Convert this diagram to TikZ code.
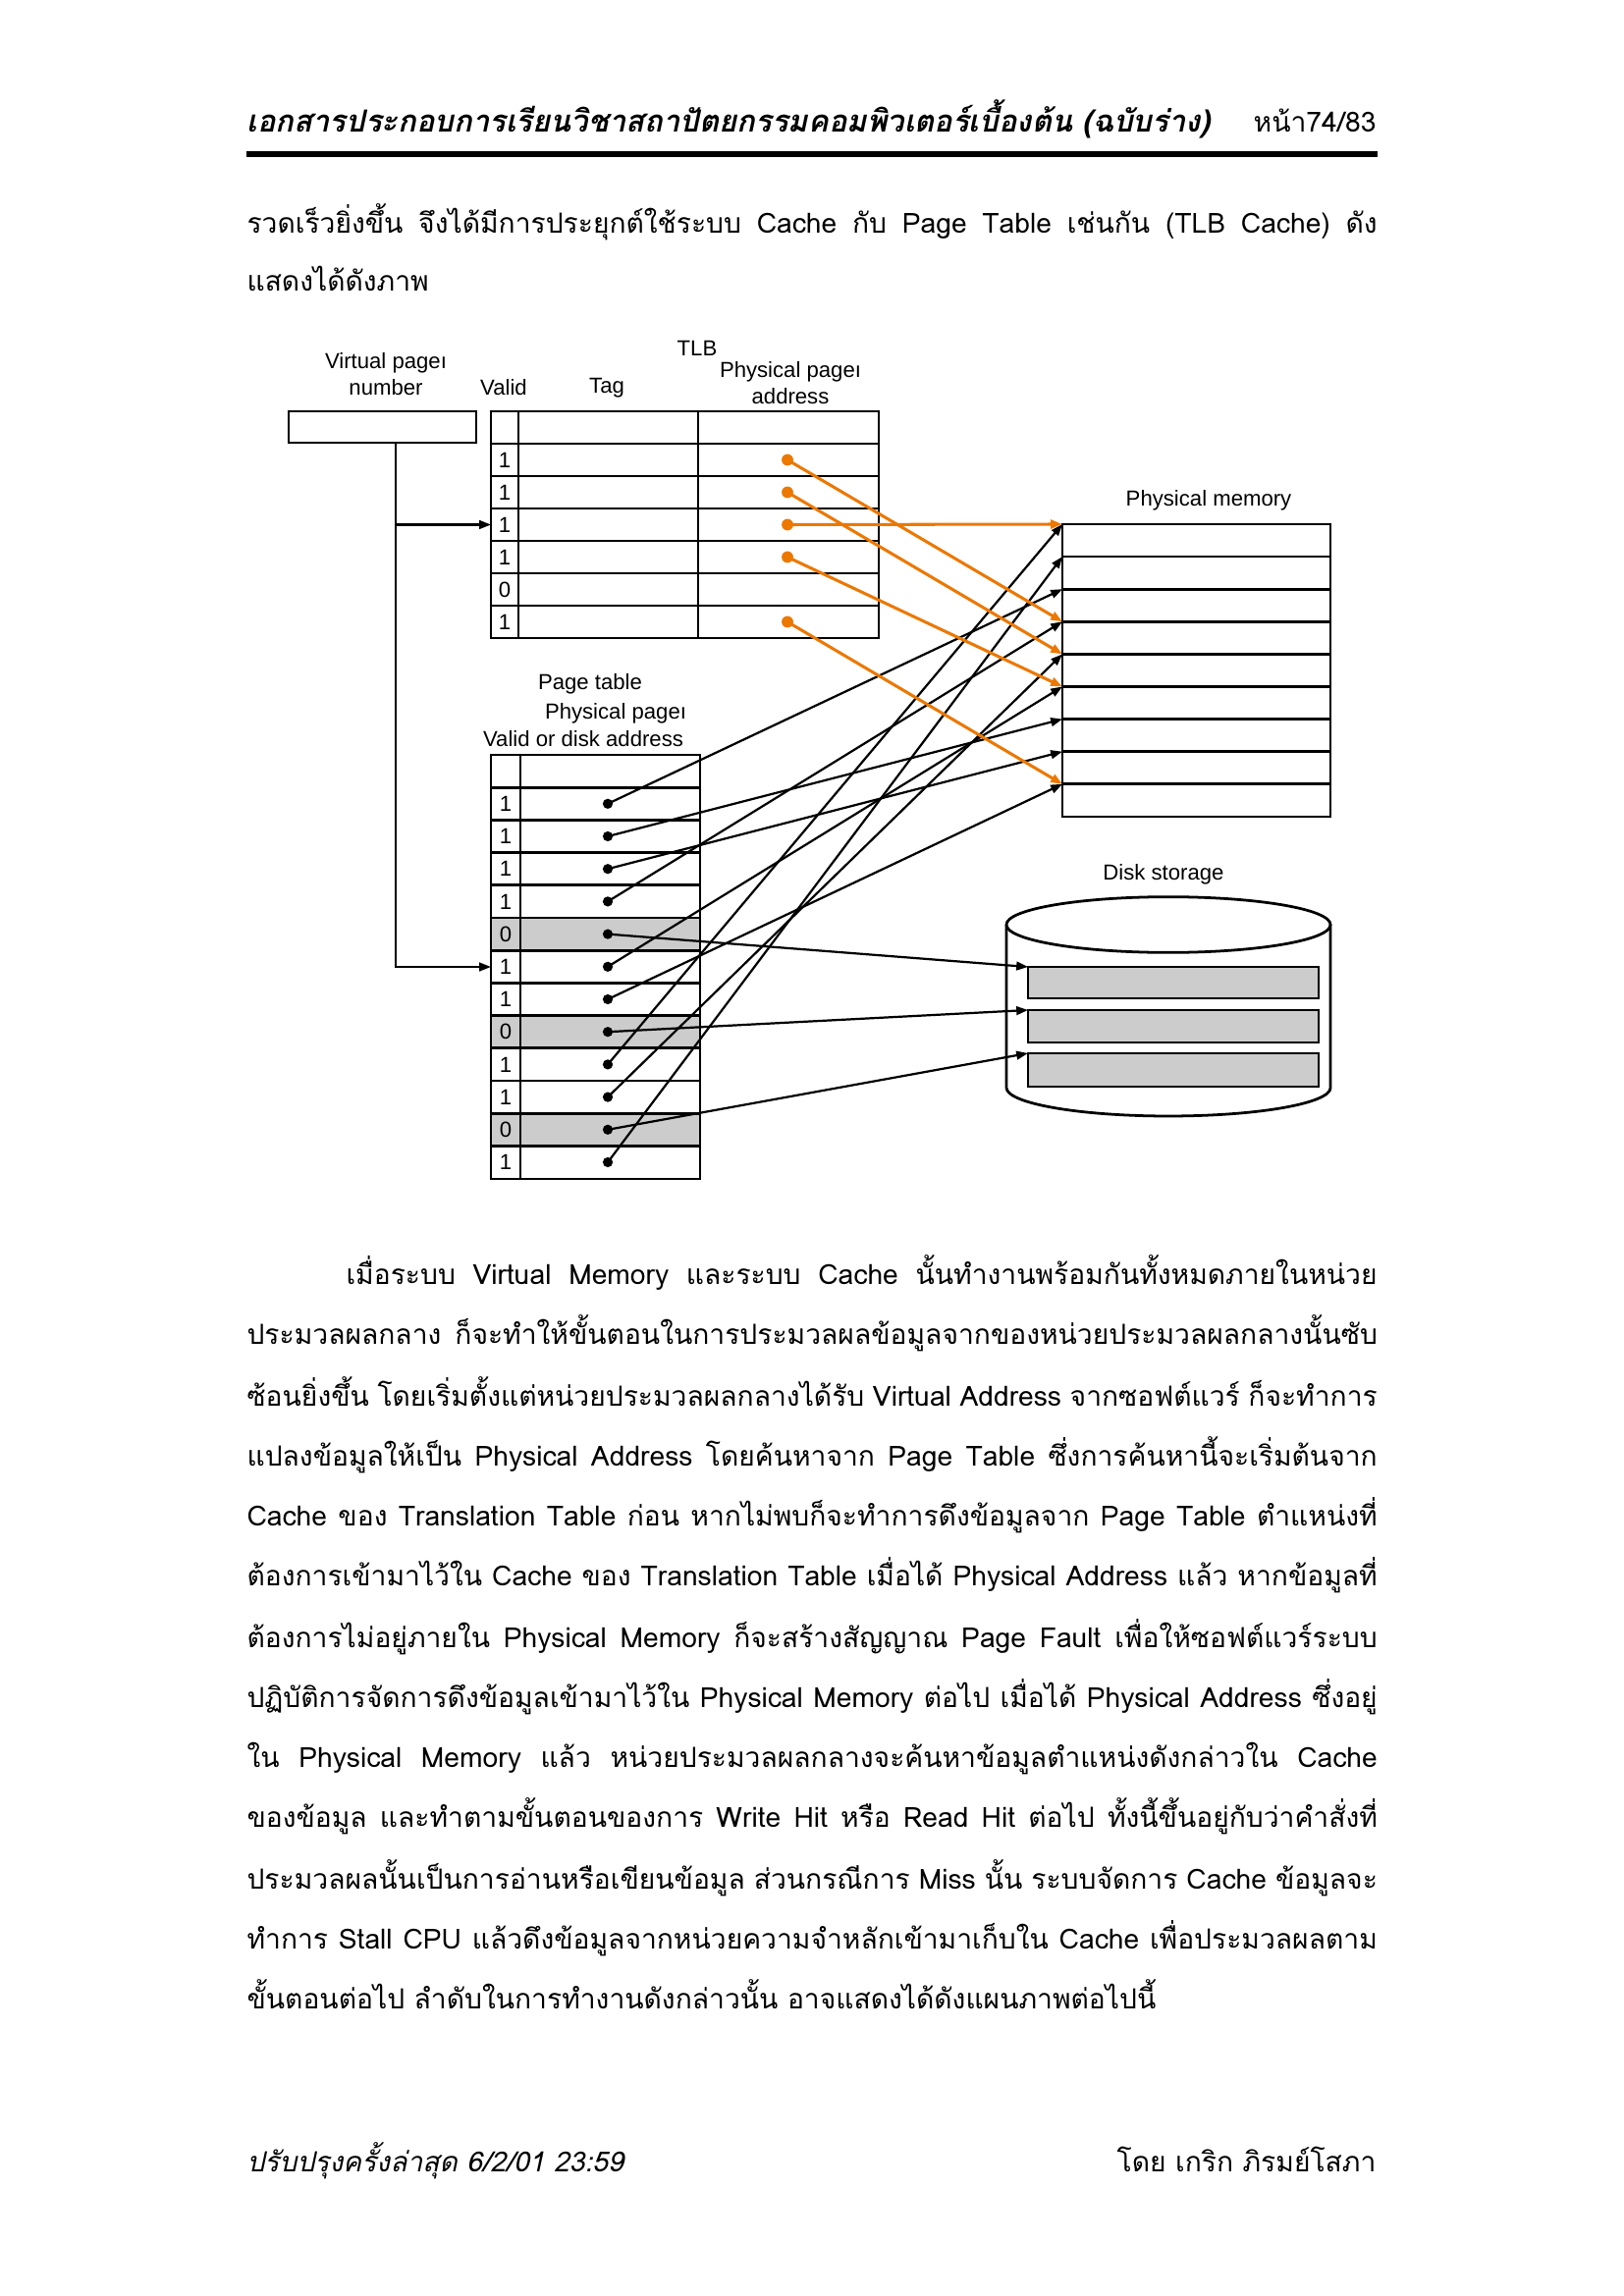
\documentclass[tikz,border=0pt]{standalone}
\usepackage{fontspec}
\setmainfont{Liberation Sans}
\newfontfamily\thaifont[Script=Thai]{Loma}
\usetikzlibrary{arrows.meta}
\definecolor{tlborange}{RGB}{236,120,0}
\definecolor{swapgray}{RGB}{204,204,204}

\tikzset{
  tbl/.style={line width=1pt},
  lbl/.style={font=\fontsize{8}{9.7}\selectfont, align=center, inner sep=0pt},
  num/.style={font=\fontsize{8}{9.7}\selectfont, inner sep=0pt},
  ptarrow/.style={line width=0.8pt, -{Triangle[length=1.5mm,width=1.1mm]}},
  tlbarrow/.style={ptarrow, tlborange, line width=1.1pt},
  txt/.style={anchor=mid west, inner sep=0pt, font=\thaifont\fontsize{10.2}{12}\selectfont},
  head/.style={txt, font=\thaifont\fontsize{11.2}{13}\selectfont}
}

\begin{document}
\begin{tikzpicture}[x=0.127mm,y=-0.127mm]
  \path[use as bounding box,fill=white] (0,0) rectangle (1653,2339);

  % header and footer of the page
  \node[head] (title) at (251,127) {\bfseries\itshape เอกสารประกอบการเรียนวิชาสถาปัตยกรรมคอมพิวเตอร์เบื้องต้น (ฉบับร่าง)};
  \node[txt,anchor=mid east] (pageno) at (1402,127) {หน้า74/83};
  \fill (251,154) rectangle (1403,160);
  \node[txt] (updated) at (251,2205) {\itshape ปรับปรุงครั้งล่าสุด 6/2/01 23:59};
  \node[txt,anchor=mid east] (author) at (1402,2205) {โดย เกริก ภิรมย์โสภา};

  % text above the figure
  \node[txt] (intro1) at (251,230) {\makebox[146.2mm][s]{รวดเร็วยิ่งขึ้น จึงได้มีการประยุกต์ใช้ระบบ Cache กับ Page Table เช่นกัน (TLB Cache) ดัง}};
  \node[txt] (intro2) at (251,289) {แสดงได้ดังภาพ};

  % virtual page number
  \node[lbl] (vpnlbl) at (393,381) {Virtual pageı\\number};
  \node[draw,tbl,minimum width=24.26mm,minimum height=4.06mm,inner sep=0pt] (vpn) at (389.5,435) {};
  \path (vpn.south) ++(13.5,0) coordinate (vpnfoot);
  \coordinate (tlbin) at (500,534.5);
  \coordinate (ptin) at (500,985);
  \draw[ptarrow] (vpnfoot) -- (vpnfoot |- ptin) -- (ptin);
  \draw[ptarrow] (vpnfoot |- tlbin) -- (tlbin);

  % TLB
  \node[lbl] (tlblbl) at (710,355) {TLB};
  \node[lbl] (validlbl) at (513,395) {Valid};
  \node[lbl] (taglbl) at (618,395) {Tag};
  \node[lbl] (ppalbl) at (805,390) {Physical pageı\\address};
  \draw[tbl] (500,419) rectangle (895,650);
  \foreach \i in {1,...,6}
    \draw[tbl] (500,{419+33*\i}) -- (895,{419+33*\i});
  \draw[tbl] (528,419) -- (528,650);
  \draw[tbl] (711,419) -- (711,650);
  \foreach \v [count=\i] in {1,1,1,1,0,1}
    \node[num] (tlbv\i) at (514,{419+33*(\i+0.5)}) {\v};
  \foreach \i in {1,2,3,4,6} {
    \coordinate (tlb\i) at (802,{419+33*(\i+0.5)});
    \fill[tlborange] (tlb\i) circle[radius=0.75mm];
  }

  % page table
  \node[lbl] (ptlbl) at (601,697) {Page table};
  \node[lbl] (ptppa) at (627,727) {Physical pageı};
  \node[lbl] (ptvalid) at (594,753) {Valid or disk address};
  \foreach \i in {5,8,11}
    \fill[swapgray] (500,{769+33.2*\i}) rectangle (713,{769+33.2*(\i+1)});
  \draw[tbl] (500,769) rectangle (713,1201);
  \foreach \i in {1,...,12}
    \draw[tbl] (500,{769+33.2*\i}) -- (713,{769+33.2*\i});
  \draw[tbl] (530,769) -- (530,1201);
  \foreach \v [count=\i] in {1,1,1,1,0,1,1,0,1,1,0,1}
    \node[num] (ptv\i) at (515,{769+33.2*(\i+0.5)}) {\v};
  \foreach \i in {1,...,12} {
    \coordinate (pt\i) at (619,{769+33.2*(\i+0.5)});
    \fill (pt\i) circle[radius=0.65mm];
  }

  % physical memory
  \node[lbl] (memlbl) at (1231,510) {Physical memory};
  \draw[tbl] (1082,534) rectangle (1355,832);
  \foreach \k in {1,...,8}
    \draw[tbl] (1082,{534+33.1*\k}) -- (1355,{534+33.1*\k});
  \foreach \k in {0,...,8}
    \coordinate (mem\k) at (1082,{534+33.1*\k});

  % disk storage
  \node[lbl] (disklbl) at (1185,891) {Disk storage};
  \draw[tbl] (1190,942) ellipse[x radius=20.96mm,y radius=3.6mm];
  \draw[tbl] (1025,942) -- (1025,1108)
    arc[start angle=180,end angle=360,x radius=20.96mm,y radius=3.68mm] -- (1355,942);
  \foreach \j/\t/\b in {1/985/1017,2/1029/1062,3/1073/1107} {
    \filldraw[tbl,fill=swapgray] (1047,\t) rectangle (1343,\b);
    \coordinate (dsk\j) at (1047,\t);
  }

  % page table entries
  \draw[ptarrow] (pt1) -- (mem2);
  \draw[ptarrow] (pt2) -- (mem6);
  \draw[ptarrow] (pt3) -- (mem7);
  \draw[ptarrow] (pt4) -- (mem3);
  \draw[ptarrow] (pt6) -- (mem5);
  \draw[ptarrow] (pt7) -- (mem8);
  \draw[ptarrow] (pt9) -- (mem0);
  \draw[ptarrow] (pt10) -- (mem4);
  \draw[ptarrow] (pt12) -- (mem1);
  \draw[ptarrow] (pt5) -- (dsk1);
  \draw[ptarrow] (pt8) -- (dsk2);
  \draw[ptarrow] (pt11) -- (dsk3);

  % TLB entries
  \draw[tlbarrow] (tlb1) -- (mem3);
  \draw[tlbarrow] (tlb2) -- (mem4);
  \draw[tlbarrow] (tlb3) -- (mem0);
  \draw[tlbarrow] (tlb4) -- (mem5);
  \draw[tlbarrow] (tlb6) -- (mem8);

  % text below the figure
  \node[txt] (body1) at (352,1301) {\makebox[133.35mm][s]{เมื่อระบบ Virtual Memory และระบบ Cache นั้นทำงานพร้อมกันทั้งหมดภายในหน่วย}};
  \node[txt] (body2) at (251,1362) {\makebox[146.2mm][s]{ประมวลผลกลาง ก็จะทำให้ขั้นตอนในการประมวลผลข้อมูลจากของหน่วยประมวลผลกลางนั้นซับ}};
  \node[txt] (body3) at (251,1425) {\makebox[146.2mm][s]{ซ้อนยิ่งขึ้น โดยเริ่มตั้งแต่หน่วยประมวลผลกลางได้รับ Virtual Address จากซอฟต์แวร์ ก็จะทำการ}};
  \node[txt] (body4) at (251,1486) {\makebox[146.2mm][s]{แปลงข้อมูลให้เป็น Physical Address โดยค้นหาจาก Page Table ซึ่งการค้นหานี้จะเริ่มต้นจาก}};
  \node[txt] (body5) at (251,1547) {\makebox[146.2mm][s]{Cache ของ Translation Table ก่อน หากไม่พบก็จะทำการดึงข้อมูลจาก Page Table ตำแหน่งที่}};
  \node[txt] (body6) at (251,1608) {\makebox[146.2mm][s]{ต้องการเข้ามาไว้ใน Cache ของ Translation Table เมื่อได้ Physical Address แล้ว หากข้อมูลที่}};
  \node[txt] (body7) at (251,1671) {\makebox[146.2mm][s]{ต้องการไม่อยู่ภายใน Physical Memory ก็จะสร้างสัญญาณ Page Fault เพื่อให้ซอฟต์แวร์ระบบ}};
  \node[txt] (body8) at (251,1732) {\makebox[146.2mm][s]{ปฏิบัติการจัดการดึงข้อมูลเข้ามาไว้ใน Physical Memory ต่อไป เมื่อได้ Physical Address ซึ่งอยู่}};
  \node[txt] (body9) at (251,1793) {\makebox[146.2mm][s]{ใน Physical Memory แล้ว หน่วยประมวลผลกลางจะค้นหาข้อมูลตำแหน่งดังกล่าวใน Cache}};
  \node[txt] (body10) at (251,1854) {\makebox[146.2mm][s]{ของข้อมูล และทำตามขั้นตอนของการ Write Hit หรือ Read Hit ต่อไป ทั้งนี้ขึ้นอยู่กับว่าคำสั่งที่}};
  \node[txt] (body11) at (251,1917) {\makebox[146.2mm][s]{ประมวลผลนั้นเป็นการอ่านหรือเขียนข้อมูล ส่วนกรณีการ Miss นั้น ระบบจัดการ Cache ข้อมูลจะ}};
  \node[txt] (body12) at (251,1978) {\makebox[146.2mm][s]{ทำการ Stall CPU แล้วดึงข้อมูลจากหน่วยความจำหลักเข้ามาเก็บใน Cache เพื่อประมวลผลตาม}};
  \node[txt] (body13) at (251,2039) {ขั้นตอนต่อไป ลำดับในการทำงานดังกล่าวนั้น อาจแสดงได้ดังแผนภาพต่อไปนี้};
\end{tikzpicture}
\end{document}
